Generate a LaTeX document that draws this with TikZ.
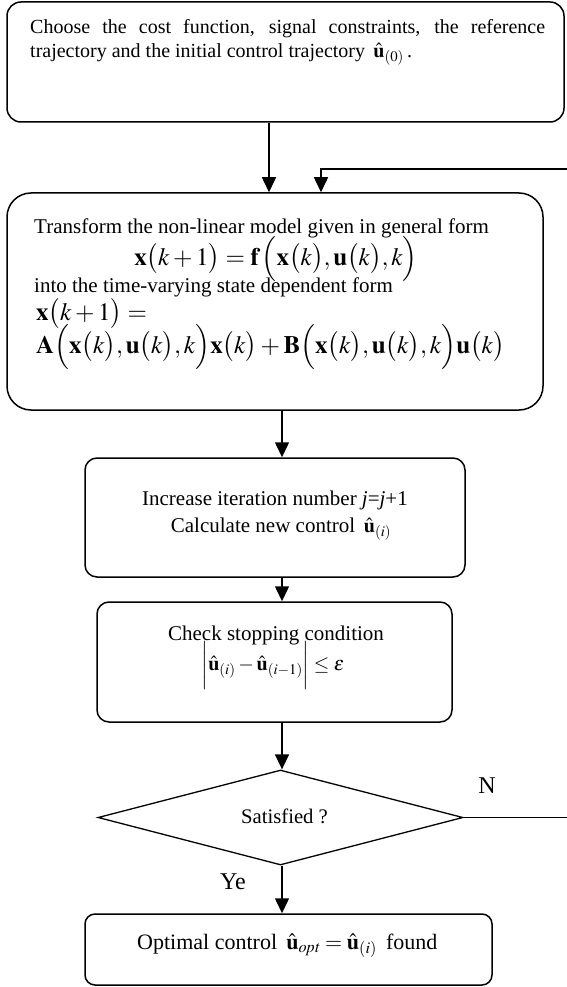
\documentclass[tikz,border=0pt]{standalone}
\usepackage{mathptmx}
\usepackage{fontspec}
\setmainfont{Liberation Serif}
\usetikzlibrary{arrows.meta,shapes.geometric}

\newcommand{\uhat}{\hat{\mathbf{u}}}
\newcommand{\fs}[1]{\fontsize{#1}{1.2\dimexpr#1pt\relax}\selectfont}

\begin{document}
\begin{tikzpicture}[x=1pt,y=-1pt,
  font=\fs{21},
  box/.style={draw, line width=1.5pt, rounded corners=#1, inner sep=0pt},
  dec/.style={draw, diamond, line width=1.3pt, inner sep=0pt},
  arr/.style={line width=1.5pt, -{Triangle[length=15pt,width=14pt]}},
  txt/.style={inner sep=0pt},
  eq/.style={inner sep=0pt, font=\fs{25}}]

\useasboundingbox (0,0) rectangle (566,987);

% boxes
\node[box=14pt, minimum width=557pt, minimum height=120pt] (init)  at (285.5,62) {};
\node[box=24pt, minimum width=536pt, minimum height=217pt] (trans) at (275,301.5) {};
\node[box=12pt, minimum width=380pt, minimum height=119pt] (incr)  at (275,517.5) {};
\node[box=12pt, minimum width=355pt, minimum height=120pt] (check) at (274.5,662) {};
\node[dec, minimum width=365pt, minimum height=95pt]       (sat)   at (280.5,817.5) {};
\node[box=10pt, minimum width=407pt, minimum height=71pt]  (opt)   at (288.5,949.5) {};

% texts
\node[txt, anchor=north west, text width=515pt, align=justify, font=\fs{20}] (t1) at (30,19)
  {Choose the cost function, signal constraints, the reference\linebreak
   trajectory and the initial control trajectory \,$\uhat_{(0)}$\,.};

\node[txt, anchor=base west] (t2a) at (34,233) {Transform the non-linear model given in general form};
\node[eq, anchor=base] (t2b) at (276,265)
  {$\mathbf{x}\bigl(k+1\bigr)=\mathbf{f}\,\Bigl(\mathbf{x}\bigl(k\bigr),\mathbf{u}\bigl(k\bigr),k\Bigr)$};
\node[txt, anchor=base west] (t2c) at (34,292) {into the time-varying state dependent form};
\node[eq, anchor=base west] (t2d) at (36,320) {$\mathbf{x}\bigl(k+1\bigr)=$};
\node[eq, anchor=base west] (t2e) at (36,353)
  {$\mathbf{A}\Bigl(\mathbf{x}\bigl(k\bigr),\mathbf{u}\bigl(k\bigr),k\Bigr)\mathbf{x}\bigl(k\bigr)+\mathbf{B}\Bigl(\mathbf{x}\bigl(k\bigr),\mathbf{u}\bigl(k\bigr),k\Bigr)\mathbf{u}\bigl(k\bigr)$};

\node[txt, anchor=base] (t3a) at (275,505) {Increase iteration number \textit{j}=\textit{j}+1};
\node[txt, anchor=base] (t3b) at (281,532) {Calculate new control \,{\fs{20}$\uhat_{(i)}$}};

\node[txt, anchor=base] (t4a) at (276,640) {Check stopping condition};
\node[txt, anchor=base, font=\fs{20}] (t4b) at (273,670) {$\biggl|\uhat_{(i)}-\uhat_{(i-1)}\biggr|\le\varepsilon$};

\node[txt, anchor=base, font=\fs{20.7}] (t5) at (284.5,823) {Satisfied ?};
\node[txt, font=\fs{24}] (lN) at (487,786) {N};
\node[txt, font=\fs{24}] (lY) at (233,882) {Ye};

\node[txt, anchor=base west, font=\fs{22}] (t6) at (137,949)
  {Optimal control \,$\uhat_{\mathit{opt}}=\uhat_{(i)}$\, found};

% connector columns
\coordinate (c1) at (269,0);
\coordinate (c2) at (282,0);
\coordinate (fb) at (321,169);
\coordinate (rt) at (570,169);

% connectors
\draw[arr] (init.south -| c1) -- (trans.north -| c1);
\draw[arr] (trans.south -| c2) -- (incr.north -| c2);
\draw[arr] (incr.south -| c2) -- (check.north -| c2);
\draw[arr] (check.south -| c2) -- (sat.north -| c2);
\draw[arr] (sat.south -| c2) -- (opt.north -| c2);
\draw[arr] (sat.east) -- (sat.east -| rt) -- (rt) -- (fb) -- (trans.north -| fb);

\end{tikzpicture}
\end{document}
